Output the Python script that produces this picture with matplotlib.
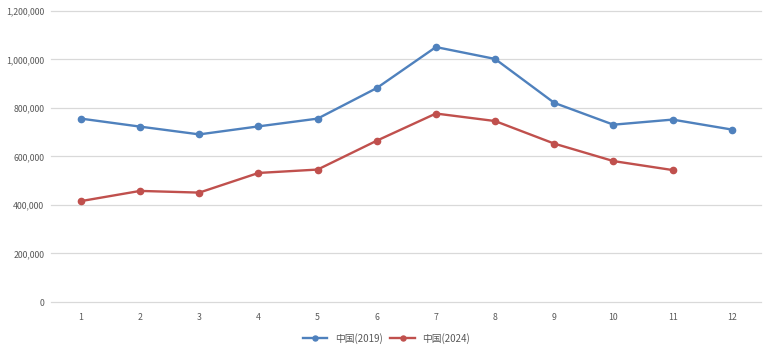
import matplotlib
matplotlib.use("Agg")
import matplotlib.pyplot as plt
from matplotlib.ticker import FuncFormatter

plt.rcParams['font.family'] = ['Noto Sans CJK SC', 'DejaVu Sans']

months = ['1', '2', '3', '4', '5', '6', '7', '8', '9', '10', '11', '12']
v2019 = [756000, 723000, 691000, 724000, 756000, 882000, 1051000, 1002000, 821000, 731000, 752000, 711000]
v2024 = [416000, 458000, 451000, 532000, 546000, 665000, 777000, 746000, 653000, 581000, 544000]
labels = ['中国(2019)', '中国(2024)']
yticks = [0, 200000, 400000, 600000, 800000, 1000000, 1200000]

fig = plt.figure(figsize=(7.69, 3.52), dpi=100)
ax = fig.add_axes([0.0668, 0.142, 0.9232, 0.827])

x19 = list(range(len(v2019)))
x24 = list(range(len(v2024)))
ax.plot(x19, v2019, color='#4F81BD', lw=1.7, marker='o', ms=4.5, label=labels[0], zorder=3)
ax.plot(x24, v2024, color='#C0504D', lw=1.7, marker='o', ms=4.5, label=labels[1], zorder=3)

ax.set_xlim(-0.5, 11.5)
ax.set_ylim(0, 1200000)
ax.set_xticks(x19)
ax.set_xticklabels(months)
ax.set_yticks(yticks)
ax.yaxis.set_major_formatter(FuncFormatter(lambda v, p: f'{int(v):,}'))
ax.grid(axis='y', color='#D9D9D9', lw=0.9)
for gl in ax.yaxis.get_gridlines():
    gl.set_clip_on(False)
ax.set_axisbelow(True)
for s in ax.spines.values():
    s.set_visible(False)
ax.tick_params(length=0, labelsize=6.3, colors='#595959')
ax.tick_params(axis='x', pad=8)
ax.tick_params(axis='y', pad=5)

ax.legend(loc='upper center', bbox_to_anchor=(0.472, -0.075), ncol=2, frameon=False,
          fontsize=7, labelcolor='#595959', handlelength=2.5, columnspacing=0.8,
          markerscale=0.8)

fig.savefig('out.png', dpi=100)
